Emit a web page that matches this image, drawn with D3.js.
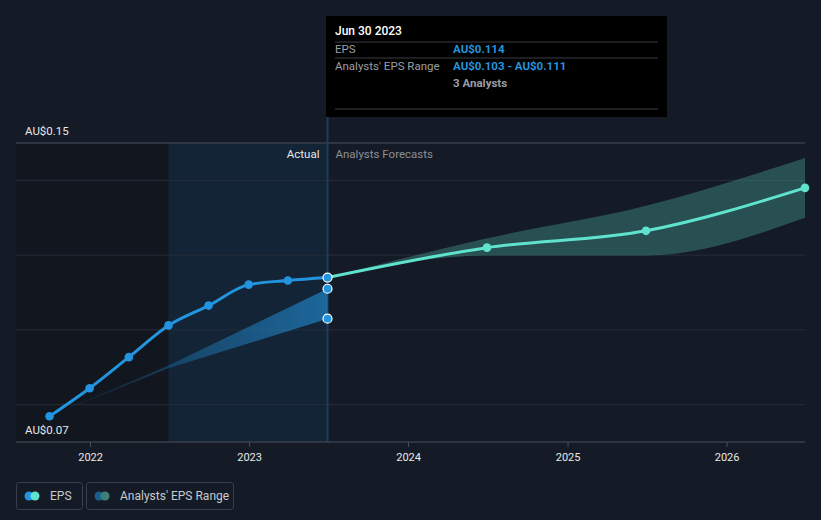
<!DOCTYPE html>
<html>
<head>
<meta charset="utf-8">
<script src="https://cdn.jsdelivr.net/npm/d3@7"></script>
<style>
  html, body { margin: 0; padding: 0; background: #151b26; }
  svg { display: block; font-family: Roboto, "Noto Sans", sans-serif; }
</style>
</head>
<body>
<svg id="chart" width="821" height="520"></svg>
<script>
// ---- data ----
const actualDates = ["2021-09-30","2021-12-31","2022-03-31","2022-06-30","2022-09-30","2022-12-31","2023-03-31","2023-06-30"];
const actualEPS   = [0.0769, 0.0844, 0.0927, 0.1012, 0.1065, 0.1121, 0.1132, 0.114];

const pastRangeDates = ["2021-09-30","2022-06-30","2023-06-30"];
const pastRangeLow   = [0.0769, 0.0897, 0.103];
const pastRangeHigh  = [0.0769, 0.0905, 0.111];

const forecastDates = ["2023-06-30","2024-06-30","2025-06-30","2026-06-30"];
const forecastEPS   = [0.114, 0.122, 0.1265, 0.138];
const forecastLow   = [0.114, 0.1199, 0.1199, 0.130];
const forecastHigh  = [0.114, 0.1245, 0.1332, 0.146];

const yTickValues = [0.07, 0.15];
const yGridValues = [0.08, 0.10, 0.12, 0.14];
const xTickYears  = ["2022-01-01","2023-01-01","2024-01-01","2025-01-01","2026-01-01"];
const xDomain     = ["2021-07-15","2026-06-30"];
const yDomain     = [0.07, 0.15];
const pastStart   = "2022-06-30";
const nowDate     = "2023-06-30";

const tooltipTitle = "Jun 30 2023";
const tooltipRows = [
  ["EPS", "AU$0.114"],
  ["Analysts' EPS Range", "AU$0.103 - AU$0.111"]
];
const tooltipAnalysts = "3 Analysts";
const legendItems = ["EPS", "Analysts' EPS Range"];

// ---- setup ----
const parse = d3.utcParse("%Y-%m-%d");
const svg = d3.select("#chart");
const W = 821, H = 520;
const pLeft = 16, pRight = 805, pTop = 143, pBottom = 442;

const x = d3.scaleUtc().domain(xDomain.map(parse)).range([pLeft, pRight]);
const y = d3.scaleLinear().domain(yDomain).range([pBottom, pTop]);

const BLUE = "#2394df", TEAL = "#5fe3cf";

svg.append("rect").attr("width", W).attr("height", H).attr("fill", "#151b26");

// shaded regions
svg.append("rect")
  .attr("x", pLeft).attr("y", pTop)
  .attr("width", x(parse(pastStart)) - pLeft).attr("height", pBottom - pTop)
  .attr("fill", "#12161e");
svg.append("rect")
  .attr("x", x(parse(pastStart))).attr("y", pTop)
  .attr("width", x(parse(nowDate)) - x(parse(pastStart))).attr("height", pBottom - pTop)
  .attr("fill", "#132436");

// gridlines
svg.append("g").selectAll("line").data(yGridValues).join("line")
  .attr("x1", pLeft).attr("x2", pRight)
  .attr("y1", d => y(d)).attr("y2", d => y(d))
  .attr("stroke", "#262d38").attr("stroke-width", 1);
svg.append("line")
  .attr("x1", pLeft).attr("x2", pRight)
  .attr("y1", y(yDomain[1])).attr("y2", y(yDomain[1]))
  .attr("stroke", "#4a505a").attr("stroke-width", 1);

// hover line
svg.append("line")
  .attr("x1", x(parse(nowDate))).attr("x2", x(parse(nowDate)))
  .attr("y1", 16).attr("y2", pBottom)
  .attr("stroke", "#1d3c58").attr("stroke-width", 2);

// labels Actual / Analysts Forecasts
svg.append("text").attr("x", x(parse(nowDate)) - 8).attr("y", 158)
  .attr("text-anchor", "end").attr("fill", "#e8e8e8").attr("font-size", 11.5).text("Actual");
svg.append("text").attr("x", x(parse(nowDate)) + 8).attr("y", 158)
  .attr("fill", "#8a8f96").attr("font-size", 11.5).text("Analysts Forecasts");

// gradient for past range
const defs = svg.append("defs");
const grad = defs.append("linearGradient").attr("id", "pastGrad")
  .attr("gradientUnits", "userSpaceOnUse")
  .attr("x1", x(parse(pastRangeDates[0]))).attr("x2", x(parse(nowDate)))
  .attr("y1", 0).attr("y2", 0);
grad.append("stop").attr("offset", "0%").attr("stop-color", BLUE).attr("stop-opacity", 0.05);
grad.append("stop").attr("offset", "100%").attr("stop-color", BLUE).attr("stop-opacity", 0.6);

const pastRange = pastRangeDates.map((d, i) => ({ d: parse(d), lo: pastRangeLow[i], hi: pastRangeHigh[i] }));
svg.append("path").datum(pastRange)
  .attr("d", d3.area().x(p => x(p.d)).y0(p => y(p.lo)).y1(p => y(p.hi)))
  .attr("fill", "url(#pastGrad)");

// forecast range
const fRange = forecastDates.map((d, i) => ({ d: parse(d), lo: forecastLow[i], hi: forecastHigh[i] }));
svg.append("path").datum(fRange)
  .attr("d", d3.area().curve(d3.curveMonotoneX).x(p => x(p.d)).y0(p => y(p.lo)).y1(p => y(p.hi)))
  .attr("fill", TEAL).attr("fill-opacity", 0.26);

// x axis
svg.append("line").attr("x1", pLeft).attr("x2", pRight).attr("y1", pBottom).attr("y2", pBottom)
  .attr("stroke", "#4a505a");
const xAxis = svg.append("g").attr("transform", `translate(0,${pBottom})`)
  .call(d3.axisBottom(x).tickValues(xTickYears.map(parse)).tickFormat(d3.utcFormat("%Y")).tickSize(5).tickPadding(6));
xAxis.select(".domain").remove();
xAxis.selectAll("line").attr("stroke", "#4a505a");
xAxis.selectAll("text").attr("fill", "#e8e8e8").attr("font-size", 11).attr("font-family", "Roboto, sans-serif");

// y labels
svg.append("g").selectAll("text").data(yTickValues).join("text")
  .attr("x", 25).attr("y", d => y(d) - 8)
  .attr("fill", "#e8e8e8").attr("font-size", 11.5)
  .text(d => "AU$" + d3.format(".2f")(d));

// actual line
const actual = actualDates.map((d, i) => ({ d: parse(d), v: actualEPS[i] }));
svg.append("path").datum(actual)
  .attr("d", d3.line().curve(d3.curveMonotoneX).x(p => x(p.d)).y(p => y(p.v)))
  .attr("fill", "none").attr("stroke", BLUE).attr("stroke-width", 3);
svg.append("g").selectAll("circle").data(actual.slice(0, -1)).join("circle")
  .attr("cx", p => x(p.d)).attr("cy", p => y(p.v)).attr("r", 4.3).attr("fill", BLUE);

// forecast line
const forecast = forecastDates.map((d, i) => ({ d: parse(d), v: forecastEPS[i] }));
svg.append("path").datum(forecast)
  .attr("d", d3.line().curve(d3.curveMonotoneX).x(p => x(p.d)).y(p => y(p.v)))
  .attr("fill", "none").attr("stroke", TEAL).attr("stroke-width", 3);
svg.append("g").selectAll("circle").data(forecast.slice(1)).join("circle")
  .attr("cx", p => x(p.d)).attr("cy", p => y(p.v)).attr("r", 4.3).attr("fill", TEAL);

// highlighted points at now
const nowVals = [actualEPS[actualEPS.length - 1], pastRangeHigh[pastRangeHigh.length - 1], pastRangeLow[pastRangeLow.length - 1]];
svg.append("g").selectAll("circle").data(nowVals).join("circle")
  .attr("cx", x(parse(nowDate))).attr("cy", v => y(v)).attr("r", 4.5)
  .attr("fill", BLUE).attr("stroke", "#ffffff").attr("stroke-width", 1.2);

// tooltip
const tt = svg.append("g");
tt.append("rect").attr("x", 326).attr("y", 16).attr("width", 341).attr("height", 101).attr("fill", "#000000");
tt.append("text").attr("x", 335).attr("y", 35).attr("fill", "#ffffff").attr("font-size", 12).attr("font-weight", 500).text(tooltipTitle);
[42, 58, 109].forEach(yy => tt.append("line").attr("x1", 335).attr("x2", 658).attr("y1", yy).attr("y2", yy).attr("stroke", "#3a3d42"));
tooltipRows.forEach((r, i) => {
  tt.append("text").attr("x", 335).attr("y", 53 + i * 17).attr("fill", "#9a9ea4").attr("font-size", 11.5).text(r[0]);
  tt.append("text").attr("x", 453).attr("y", 53 + i * 17).attr("fill", BLUE).attr("font-size", 11.5).attr("font-weight", 700).text(r[1]);
});
tt.append("text").attr("x", 453).attr("y", 87).attr("fill", "#9a9ea4").attr("font-size", 11.5).attr("font-weight", 700).text(tooltipAnalysts);

// legend
const lg = svg.append("g");
const boxes = [{ x: 16, w: 66, c1: BLUE, c2: TEAL }, { x: 86, w: 147, c1: "#1d5d8c", c2: "#3d807a" }];
boxes.forEach((b, i) => {
  lg.append("rect").attr("x", b.x + 0.5).attr("y", 482.5).attr("width", b.w).attr("height", 27).attr("rx", 3)
    .attr("fill", "none").attr("stroke", "#3a404b");
  lg.append("circle").attr("cx", b.x + 13).attr("cy", 496).attr("r", 4.5).attr("fill", b.c1);
  lg.append("circle").attr("cx", b.x + 19).attr("cy", 496).attr("r", 4.5).attr("fill", b.c2);
  lg.append("text").attr("x", b.x + 34).attr("y", 500).attr("fill", "#c8cace").attr("font-size", 12).text(legendItems[i]);
});
</script>
</body>
</html>
